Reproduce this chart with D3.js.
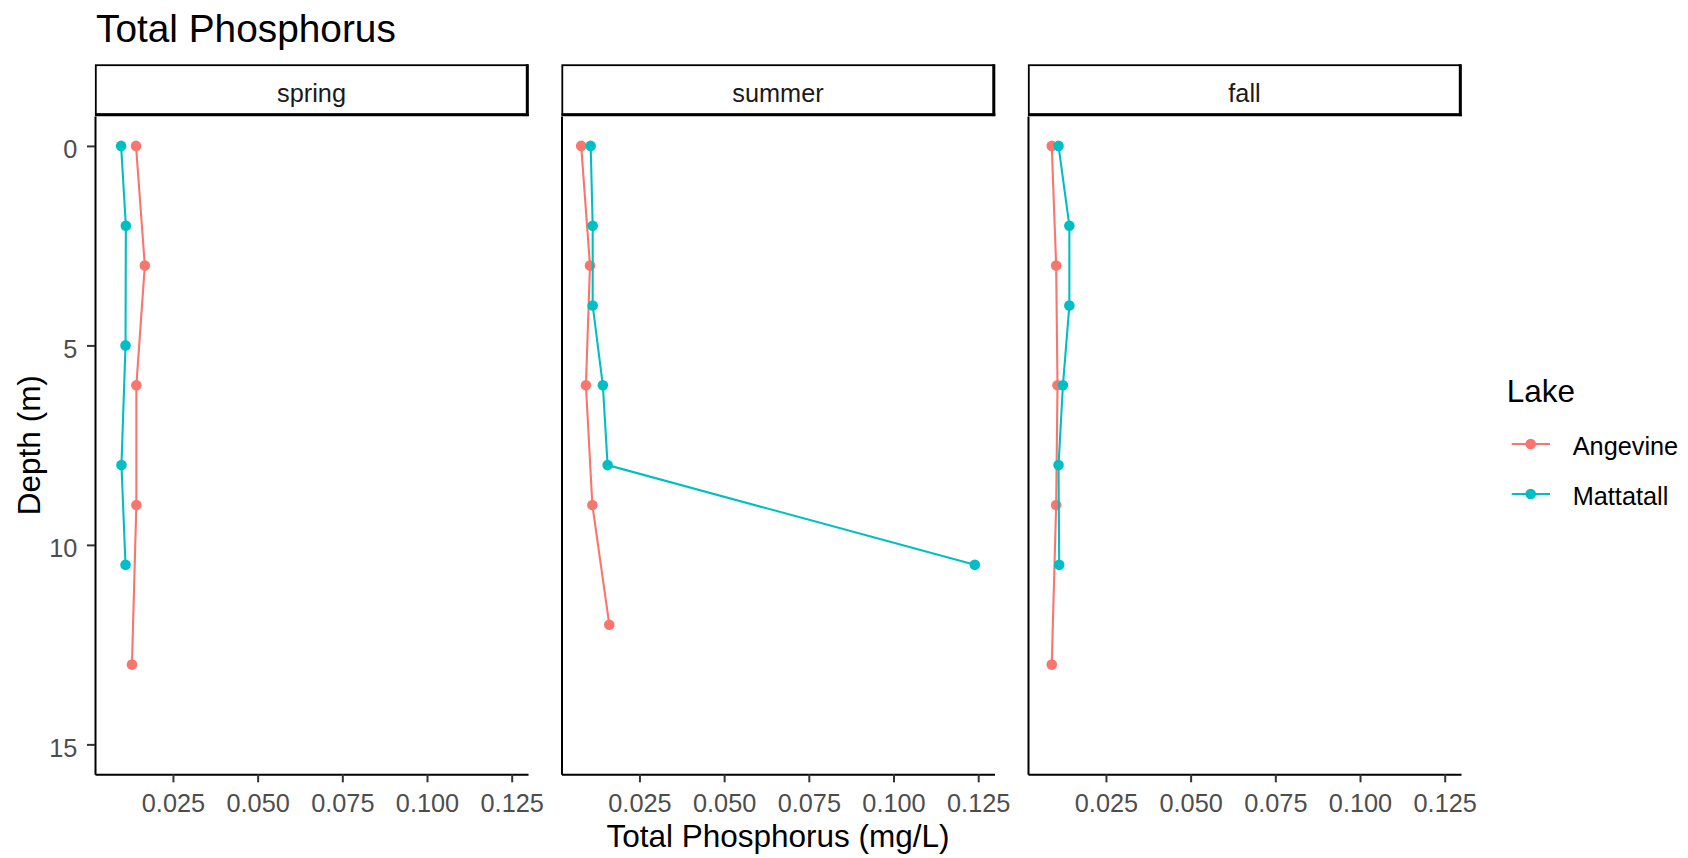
<!DOCTYPE html>
<html>
<head>
<meta charset="utf-8">
<script src="https://cdn.jsdelivr.net/npm/d3@7"></script>
<style>
  html, body { margin: 0; padding: 0; background: #fff; }
  text { font-family: "Liberation Sans", Arial, sans-serif; }
</style>
</head>
<body>
<svg id="chart"></svg>
<script>
// facets, groups, colours
const seasons = ['spring', 'summer', 'fall'];
const lakes = ['Angevine', 'Mattatall'];
const lakeColors = ['#F8766D', '#00BFC4'];

// depth (m) and total phosphorus (mg/L)
const springAngevineDepth = [0, 3, 6, 9, 13];
const springAngevineTP = [0.0141, 0.0167, 0.0142, 0.0142, 0.0129];
const springMattatallDepth = [0, 2, 5, 8, 10.5];
const springMattatallTP = [0.0097, 0.0111, 0.0110, 0.0098, 0.0110];

const summerAngevineDepth = [0, 3, 6, 9, 12];
const summerAngevineTP = [0.0078, 0.0104, 0.0092, 0.0111, 0.0161];
const summerMattatallDepth = [0, 2, 4, 6, 8, 10.5];
const summerMattatallTP = [0.0106, 0.0112, 0.0112, 0.0142, 0.0156, 0.1240];

const fallAngevineDepth = [0, 3, 6, 9, 13];
const fallAngevineTP = [0.0090, 0.0103, 0.0107, 0.0103, 0.0090];
const fallMattatallDepth = [0, 2, 4, 6, 8, 10.5];
const fallMattatallTP = [0.0110, 0.0142, 0.0142, 0.0123, 0.0110, 0.0112];

// tick labels
const xTicks = [0.025, 0.050, 0.075, 0.100, 0.125];
const yTicks = [0, 5, 10, 15];
const depthLimits = [0, 15];

const chartTitle = 'Total Phosphorus';
const xTitle = 'Total Phosphorus (mg/L)';
const yTitle = 'Depth (m)';
const legendTitle = 'Lake';

// assemble series per season/lake
const series = {
    spring: [
        d3.zip(springAngevineDepth, springAngevineTP),
        d3.zip(springMattatallDepth, springMattatallTP)
    ],
    summer: [
        d3.zip(summerAngevineDepth, summerAngevineTP),
        d3.zip(summerMattatallDepth, summerMattatallTP)
    ],
    fall: [
        d3.zip(fallAngevineDepth, fallAngevineTP),
        d3.zip(fallMattatallDepth, fallMattatallTP)
    ]
};

const svgWidth = 1688;
const svgHeight = 858;
const panelLeft = 95;
const panelStep = 466.5;
const panelWidth = 433;
const panelTop = 116;
const panelBottom = 774.3;
const stripTop = 65.2;

const svg = d3.select('#chart')
    .attr('width', svgWidth)
    .attr('height', svgHeight);

svg.append('rect')
    .attr('width', svgWidth)
    .attr('height', svgHeight)
    .attr('fill', '#fff');

// ggplot style 5% expansion of the data range
const allTP = [].concat(springAngevineTP, springMattatallTP, summerAngevineTP,
    summerMattatallTP, fallAngevineTP, fallMattatallTP);
const tpExtent = d3.extent(allTP);
const tpPad = (tpExtent[1] - tpExtent[0]) * 0.05;
const depthPad = (depthLimits[1] - depthLimits[0]) * 0.05;

const x = d3.scaleLinear()
    .domain([tpExtent[0] - tpPad, tpExtent[1] + tpPad])
    .range([0, panelWidth]);
const y = d3.scaleLinear()
    .domain([depthLimits[0] - depthPad, depthLimits[1] + depthPad])
    .range([panelTop, panelBottom]);

const line = d3.line()
    .x(d => x(d[1]))
    .y(d => y(d[0]));

const tickFont = 25.3;
const titleFont = 31.5;

seasons.forEach((season, i) => {
    const left = panelLeft + i * panelStep;
    const g = svg.append('g').attr('transform', 'translate(' + left + ',0)');

    // strip: thin top/left edges, heavier right/bottom as in the picture
    const sh = panelTop - 1.5 - stripTop;
    g.append('rect')
        .attr('x', 0.8)
        .attr('y', stripTop)
        .attr('width', panelWidth - 1.5)
        .attr('height', sh)
        .attr('fill', '#fff')
        .attr('stroke', '#000')
        .attr('stroke-width', 1.8);
    g.append('line')
        .attr('x1', panelWidth - 0.7).attr('x2', panelWidth - 0.7)
        .attr('y1', stripTop - 0.9).attr('y2', stripTop + sh + 1.6)
        .attr('stroke', '#000').attr('stroke-width', 3);
    g.append('line')
        .attr('x1', 0).attr('x2', panelWidth + 0.8)
        .attr('y1', stripTop + sh + 0.2).attr('y2', stripTop + sh + 0.2)
        .attr('stroke', '#000').attr('stroke-width', 3);
    g.append('text')
        .attr('x', panelWidth / 2)
        .attr('y', 101.5)
        .attr('text-anchor', 'middle')
        .attr('font-size', tickFont)
        .attr('fill', '#1A1A1A')
        .text(season);

    // x axis
    const gx = g.append('g')
        .attr('transform', 'translate(0,' + panelBottom + ')')
        .call(d3.axisBottom(x).tickValues(xTicks).tickFormat(d3.format('.3f'))
            .tickSize(8).tickSizeOuter(0).tickPadding(12));
    gx.select('.domain').attr('stroke', '#000').attr('stroke-width', 2);
    gx.selectAll('.tick line').attr('stroke', '#333').attr('stroke-width', 2);
    gx.selectAll('.tick text')
        .attr('font-size', tickFont)
        .attr('font-family', '"Liberation Sans", Arial, sans-serif')
        .attr('fill', '#4D4D4D');

    // y axis
    const gy = g.append('g')
        .call(d3.axisLeft(y).tickValues(yTicks)
            .tickSize(8).tickSizeOuter(0).tickPadding(9.7));
    gy.select('.domain').attr('stroke', '#000').attr('stroke-width', 2);
    gy.selectAll('.tick line').attr('stroke', '#333').attr('stroke-width', 2);
    gy.selectAll('.tick text')
        .attr('font-size', tickFont)
        .attr('font-family', '"Liberation Sans", Arial, sans-serif')
        .attr('fill', '#4D4D4D')
        .attr('dy', '0.47em');
    if (i > 0) {
        gy.selectAll('.tick').remove();
    }

    // lines and points
    series[season].forEach((pts, k) => {
        g.append('path')
            .datum(pts)
            .attr('d', line)
            .attr('fill', 'none')
            .attr('stroke', lakeColors[k])
            .attr('stroke-width', 2.1);
        g.selectAll('.pt' + k)
            .data(pts)
            .enter()
            .append('circle')
            .attr('class', 'pt' + k)
            .attr('cx', d => x(d[1]))
            .attr('cy', d => y(d[0]))
            .attr('r', 5.3)
            .attr('fill', lakeColors[k]);
    });
});

// titles
svg.append('text')
    .attr('x', 96)
    .attr('y', 41.7)
    .attr('font-size', 38.8)
    .attr('fill', '#000')
    .text(chartTitle);

svg.append('text')
    .attr('x', panelLeft + (2 * panelStep + panelWidth) / 2)
    .attr('y', 847)
    .attr('text-anchor', 'middle')
    .attr('font-size', titleFont)
    .attr('fill', '#000')
    .text(xTitle);

svg.append('text')
    .attr('transform', 'translate(39.5,' + (panelTop + panelBottom) / 2 + ') rotate(-90)')
    .attr('text-anchor', 'middle')
    .attr('font-size', titleFont)
    .attr('fill', '#000')
    .text(yTitle);

// legend
const legend = svg.append('g').attr('transform', 'translate(1506.7,0)');
legend.append('text')
    .attr('x', 0)
    .attr('y', 401.7)
    .attr('font-size', titleFont)
    .attr('fill', '#000')
    .text(legendTitle);

const keys = legend.selectAll('.key')
    .data(lakes)
    .enter()
    .append('g')
    .attr('class', 'key')
    .attr('transform', (d, k) => 'translate(0,' + (444 + k * 50) + ')');
keys.append('line')
    .attr('x1', 5)
    .attr('x2', 43.3)
    .attr('stroke', (d, k) => lakeColors[k])
    .attr('stroke-width', 2.1);
keys.append('circle')
    .attr('cx', 24)
    .attr('r', 5.3)
    .attr('fill', (d, k) => lakeColors[k]);
keys.append('text')
    .attr('x', 66)
    .attr('y', 11)
    .attr('font-size', tickFont)
    .attr('fill', '#000')
    .text(d => d);
</script>
</body>
</html>
